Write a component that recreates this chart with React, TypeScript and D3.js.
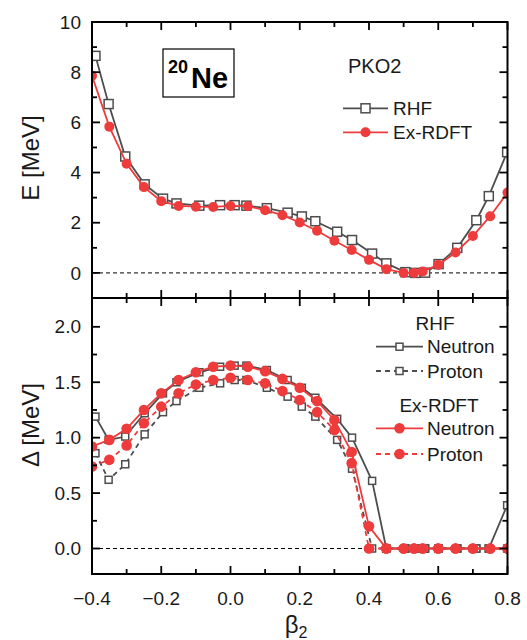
import React from "react";
import * as d3 from "d3";

// ---------- data ----------
const betaEx = [-0.4, -0.35, -0.3, -0.25, -0.2, -0.15, -0.1, -0.05, 0, 0.05, 0.1, 0.15, 0.2, 0.25, 0.3, 0.35, 0.4, 0.45, 0.5, 0.53, 0.555, 0.6, 0.65, 0.7, 0.75, 0.8];
const exE = [7.86, 5.83, 4.35, 3.42, 2.86, 2.67, 2.64, 2.63, 2.67, 2.66, 2.5, 2.3, 2.01, 1.68, 1.28, 0.91, 0.52, 0.15, 0.0, 0.0, 0.06, 0.32, 0.81, 1.47, 2.26, 3.2];
const exNeutron = [0.92, 0.98, 1.08, 1.25, 1.4, 1.52, 1.59, 1.64, 1.65, 1.64, 1.6, 1.53, 1.45, 1.33, 1.16, 0.87, 0.2, 0, 0, 0, 0, 0, 0, 0, 0, 0];
const exProton = [0.74, 0.8, 0.93, 1.13, 1.28, 1.4, 1.48, 1.52, 1.54, 1.52, 1.49, 1.42, 1.34, 1.23, 1.07, 0.77, 0, 0, 0, 0, 0, 0, 0, 0, 0, 0];

const betaRHF = [-0.39, -0.352, -0.304, -0.248, -0.195, -0.156, -0.09, -0.03, 0.012, 0.046, 0.105, 0.165, 0.206, 0.245, 0.308, 0.351, 0.409, 0.45, 0.505, 0.534, 0.562, 0.601, 0.655, 0.71, 0.746, 0.799];
const rhfE = [8.65, 6.73, 4.64, 3.53, 2.96, 2.77, 2.68, 2.7, 2.7, 2.68, 2.58, 2.4, 2.25, 2.06, 1.64, 1.31, 0.77, 0.38, 0.03, 0.0, 0.01, 0.35, 1.0, 2.1, 3.06, 4.81];
const rhfNeutron = [1.19, 0.98, 1.01, 1.22, 1.4, 1.5, 1.59, 1.64, 1.65, 1.65, 1.61, 1.52, 1.45, 1.36, 1.17, 1.0, 0.61, 0, 0, 0, 0, 0, 0, 0, 0, 0.39];
const rhfProton = [0.86, 0.62, 0.76, 1.03, 1.23, 1.33, 1.45, 1.49, 1.52, 1.52, 1.45, 1.37, 1.28, 1.19, 0.98, 0.72, 0, 0, 0, 0, 0, 0, 0, 0, 0, 0];

const xMajor = [-0.4, -0.2, 0.0, 0.2, 0.4, 0.6, 0.8];
const xMinor = [-0.3, -0.1, 0.1, 0.3, 0.5, 0.7];
const eMajor = [0, 2, 4, 6, 8, 10];
const eMinor = [-1, 1, 3, 5, 7, 9];
const dMajor = [0.0, 0.5, 1.0, 1.5, 2.0];
const dMinor = [0.25, 0.75, 1.25, 1.75, -0.25];

// ---------- layout ----------
const W = 527, H = 640;
const L = 92, R = 507.5, T = 22, M = 298, B = 574;
const FONT = "'Liberation Sans', Arial, Helvetica, sans-serif";
const GRAY = "#4d4d4d";
const RED = "#ee3b3b";

const x = d3.scaleLinear().domain([-0.4, 0.8]).range([L, R]);
const yE = d3.scaleLinear().domain([-1, 10]).range([M, T]);
const yD = d3.scaleLinear().domain([-0.23, 2.26]).range([B, M]);

const fmtX = d3.format(".1f");
const fmtE = d3.format("d");
const fmtD = d3.format(".1f");

function zip(xs: number[], ys: number[]): [number, number][] {
  return xs.map((v, i) => [v, ys[i]]);
}

function Series({ pts, y, color, dash, marker, size }: any) {
  const line = d3.line<[number, number]>().x((d) => x(d[0])).y((d) => y(d[1]));
  return (
    <g>
      <path d={line(pts) || ""} fill="none" stroke={color} strokeWidth={1.8} strokeDasharray={dash} />
      {pts.map((d: [number, number], i: number) =>
        marker === "square" ? (
          <rect key={i} x={x(d[0]) - size / 2} y={y(d[1]) - size / 2} width={size} height={size} fill="#fff" stroke={color} strokeWidth={1.5} />
        ) : (
          <circle key={i} cx={x(d[0])} cy={y(d[1])} r={size} fill={color} />
        )
      )}
    </g>
  );
}

function Frame({ top, bottom, y, major, minor, fmt, xLabels }: any) {
  const maj = 8, min = 5;
  const lines: any[] = [];
  xMajor.forEach((v, i) => {
    lines.push(<line key={"xt" + i} x1={x(v)} x2={x(v)} y1={top} y2={top + maj} />);
    lines.push(<line key={"xb" + i} x1={x(v)} x2={x(v)} y1={bottom} y2={bottom - maj} />);
  });
  xMinor.forEach((v, i) => {
    lines.push(<line key={"xmt" + i} x1={x(v)} x2={x(v)} y1={top} y2={top + min} />);
    lines.push(<line key={"xmb" + i} x1={x(v)} x2={x(v)} y1={bottom} y2={bottom - min} />);
  });
  const [d0, d1] = y.domain();
  major.forEach((v: number, i: number) => {
    if (v < d0 || v > d1) return;
    lines.push(<line key={"yl" + i} x1={L} x2={L + maj} y1={y(v)} y2={y(v)} />);
    lines.push(<line key={"yr" + i} x1={R} x2={R - maj} y1={y(v)} y2={y(v)} />);
  });
  minor.forEach((v: number, i: number) => {
    if (v < d0 || v > d1) return;
    lines.push(<line key={"yml" + i} x1={L} x2={L + min} y1={y(v)} y2={y(v)} />);
    lines.push(<line key={"ymr" + i} x1={R} x2={R - min} y1={y(v)} y2={y(v)} />);
  });
  return (
    <g>
      <g stroke="#000" strokeWidth={1.8}>{lines}</g>
      <rect x={L} y={top} width={R - L} height={bottom - top} fill="none" stroke="#000" strokeWidth={2} />
      <g fontFamily={FONT} fontSize={19} fill="#1a1a1a" textAnchor="end">
        {major.map((v: number, i: number) => (
          <text key={i} x={81} y={y(v)} dy="0.35em">{fmt(v)}</text>
        ))}
      </g>
      {xLabels && (
        <g fontFamily={FONT} fontSize={19} fill="#1a1a1a" textAnchor="middle">
          {xMajor.map((v, i) => (
            <text key={i} x={x(v)} y={598} dy="0.35em">{fmtX(v)}</text>
          ))}
        </g>
      )}
    </g>
  );
}

export default function App() {
  return (
    <svg width={W} height={H} style={{ position: "absolute", left: 0, top: 0, background: "#fff" }}>
      <defs>
        <clipPath id="clipTop"><rect x={L} y={T} width={R - L} height={M - T} /></clipPath>
        <clipPath id="clipBot"><rect x={L} y={M} width={R - L} height={B - M} /></clipPath>
      </defs>

      {/* top panel */}
      <line x1={L} x2={R} y1={yE(0)} y2={yE(0)} stroke="#000" strokeWidth={1} strokeDasharray="4,3" />
      <g clipPath="url(#clipTop)">
        <Series pts={zip(betaRHF, rhfE)} y={yE} color={GRAY} marker="square" size={9} />
        <Series pts={zip(betaEx, exE)} y={yE} color={RED} marker="circle" size={5} />
      </g>

      {/* bottom panel */}
      <line x1={L} x2={R} y1={yD(0)} y2={yD(0)} stroke="#000" strokeWidth={1} strokeDasharray="4,3" />
      <g clipPath="url(#clipBot)">
        <Series pts={zip(betaRHF, rhfNeutron)} y={yD} color={GRAY} marker="square" size={7} />
        <Series pts={zip(betaRHF, rhfProton)} y={yD} color={GRAY} marker="square" size={7} dash="5,4" />
        <Series pts={zip(betaEx, exProton)} y={yD} color={RED} marker="circle" size={5.3} dash="5,4" />
        <Series pts={zip(betaEx, exNeutron)} y={yD} color={RED} marker="circle" size={5.3} />
      </g>

      <Frame top={T} bottom={M} y={yE} major={eMajor} minor={eMinor} fmt={fmtE} xLabels={false} />
      <Frame top={M} bottom={B} y={yD} major={dMajor} minor={dMinor} fmt={fmtD} xLabels={true} />

      {/* axis titles */}
      <g fontFamily={FONT} fontSize={24} fill="#1a1a1a" textAnchor="middle">
        <text transform="translate(39,158) rotate(-90)">E [MeV]</text>
        <text transform="translate(39,425) rotate(-90)">Δ [MeV]</text>
        <text x={296} y={633}>β<tspan fontSize={16} dy={5}>2</tspan></text>
      </g>

      {/* nucleus label */}
      <rect x={163} y={49} width={71} height={48} fill="#fff" stroke="#000" strokeWidth={1.2} />
      <text fontFamily={FONT} fontWeight="bold" fill="#000">
        <tspan x={168} y={72.7} fontSize={18}>20</tspan>
        <tspan x={191} y={87.5} fontSize={29}>Ne</tspan>
      </text>

      {/* top legend */}
      <g fontFamily={FONT} fontSize={19} fill="#1a1a1a">
        <text x={348} y={66} dy="0.35em" fontSize={20}>PKO2</text>
        <line x1={343} x2={388} y1={108.3} y2={108.3} stroke={GRAY} strokeWidth={1.8} />
        <rect x={365.5 - 4.5} y={108.3 - 4.5} width={9} height={9} fill="#fff" stroke={GRAY} strokeWidth={1.5} />
        <text x={393} y={108.3} dy="0.35em">RHF</text>
        <line x1={343} x2={388} y1={132.3} y2={132.3} stroke={RED} strokeWidth={1.8} />
        <circle cx={365.5} cy={132.3} r={5} fill={RED} />
        <text x={393} y={132.3} dy="0.35em">Ex-RDFT</text>
      </g>

      {/* bottom legend */}
      <g fontFamily={FONT} fontSize={19} fill="#1a1a1a">
        <text x={435} y={323.3} dy="0.35em" textAnchor="middle">RHF</text>
        <line x1={376} x2={423} y1={346.7} y2={346.7} stroke={GRAY} strokeWidth={1.8} />
        <rect x={399.5 - 3.5} y={346.7 - 3.5} width={7} height={7} fill="#fff" stroke={GRAY} strokeWidth={1.5} />
        <text x={427} y={346.7} dy="0.35em">Neutron</text>
        <line x1={376} x2={423} y1={371} y2={371} stroke={GRAY} strokeWidth={1.8} strokeDasharray="5,4" />
        <rect x={399.5 - 3.5} y={371 - 3.5} width={7} height={7} fill="#fff" stroke={GRAY} strokeWidth={1.5} />
        <text x={427} y={371} dy="0.35em">Proton</text>

        <text x={439} y={405} dy="0.35em" textAnchor="middle">Ex-RDFT</text>
        <line x1={376} x2={423} y1={428.3} y2={428.3} stroke={RED} strokeWidth={1.8} />
        <circle cx={399.5} cy={428.3} r={5.3} fill={RED} />
        <text x={427} y={428.3} dy="0.35em">Neutron</text>
        <line x1={376} x2={423} y1={454} y2={454} stroke={RED} strokeWidth={1.8} strokeDasharray="5,4" />
        <circle cx={399.5} cy={454} r={5.3} fill={RED} />
        <text x={427} y={454} dy="0.35em">Proton</text>
      </g>
    </svg>
  );
}
